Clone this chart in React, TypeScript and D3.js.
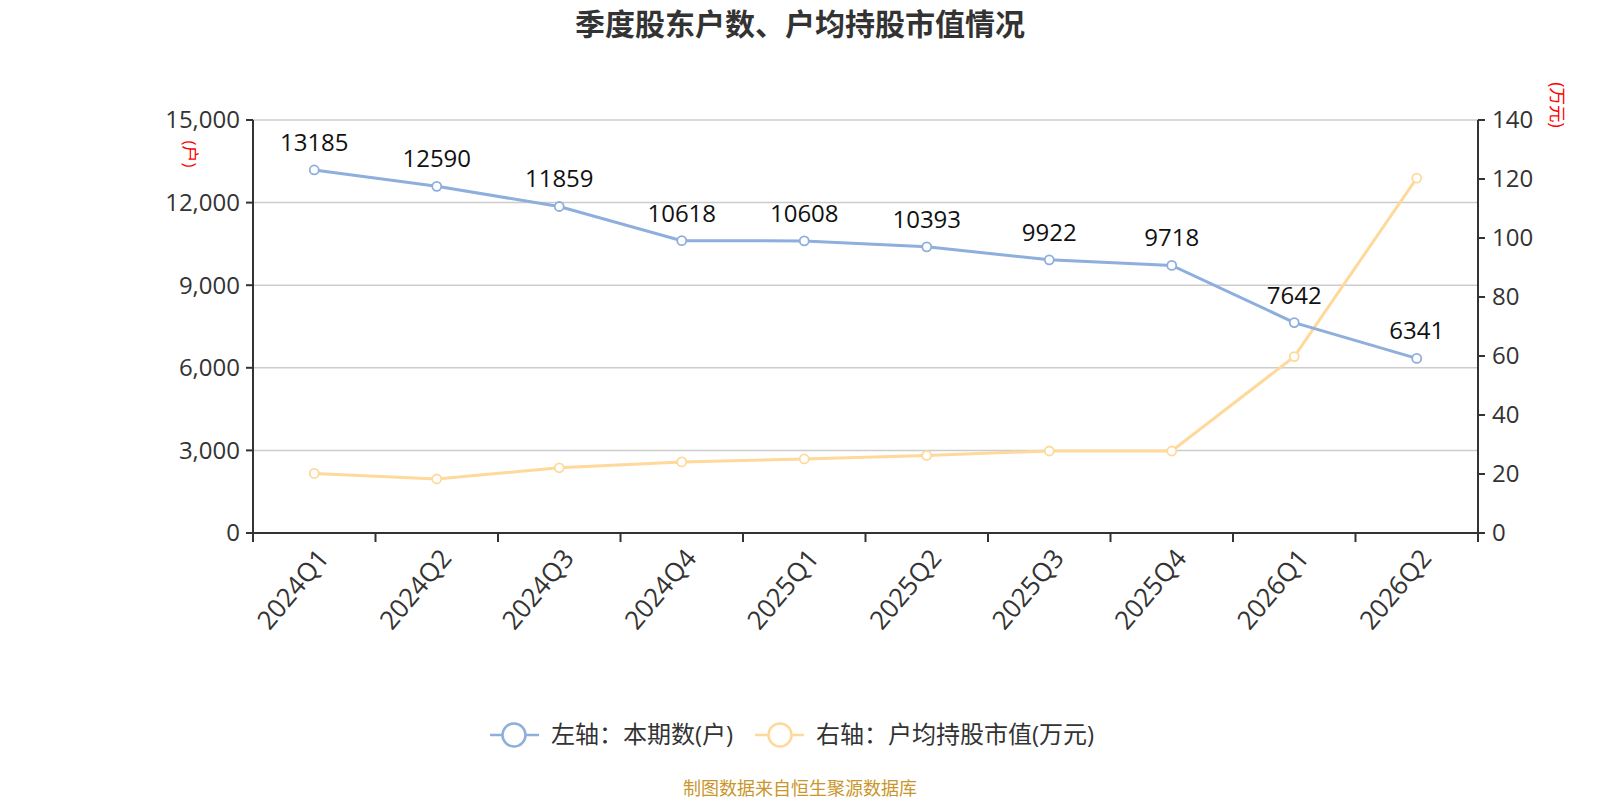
import React from "react";
import * as d3 from "d3";

const categories = ["2024Q1", "2024Q2", "2024Q3", "2024Q4", "2025Q1", "2025Q2", "2025Q3", "2025Q4", "2026Q1", "2026Q2"];
const holders = [13185, 12590, 11859, 10618, 10608, 10393, 9922, 9718, 7642, 6341];
const avgValue = [20.2, 18.3, 22.1, 24.1, 25.1, 26.3, 27.8, 27.8, 59.8, 120.3];
const leftTicks = [0, 3000, 6000, 9000, 12000, 15000];
const rightTicks = [0, 20, 40, 60, 80, 100, 120, 140];

const title = "季度股东户数、户均持股市值情况";
const legendLeft = "左轴：本期数(户)";
const legendRight = "右轴：户均持股市值(万元)";
const source = "制图数据来自恒生聚源数据库";

const BLUE = "#8eaedd";
const YELLOW = "#fed99b";
const FONT = "'Open Sans', 'Noto Sans CJK SC', sans-serif";

export default function App() {
  const left = 253, right = 1478, top = 120, bottom = 533;
  const x = d3.scaleBand<string>().domain(categories).range([left, right]);
  const yL = d3.scaleLinear().domain([0, 15000]).range([bottom, top]);
  const yR = d3.scaleLinear().domain([0, 140]).range([bottom, top]);
  const cx = (c: string) => (x(c) as number) + x.bandwidth() / 2;
  const lineL = d3.line<number>().x((_, i) => cx(categories[i])).y((d) => yL(d));
  const lineR = d3.line<number>().x((_, i) => cx(categories[i])).y((d) => yR(d));
  const fmt = d3.format(",");
  const bounds = [...categories.map((c) => x(c) as number), right];
  const legY = 735;

  return (
    <svg width={1600} height={800} style={{ position: "absolute", left: 0, top: 0, background: "#fff" }} fontFamily={FONT}>
      <text x={800} y={35} textAnchor="middle" fontSize={30} fontWeight="bold" fill="#333">{title}</text>

      {/* grid */}
      {leftTicks.filter((t) => t > 0).map((t) => (
        <line key={t} x1={left} x2={right} y1={yL(t)} y2={yL(t)} stroke="#ccc" strokeWidth={1.5} />
      ))}

      {/* left axis */}
      <line x1={left} x2={left} y1={top} y2={bottom} stroke="#333" strokeWidth={2} />
      {leftTicks.map((t) => (
        <g key={t}>
          <line x1={left - 7} x2={left} y1={yL(t)} y2={yL(t)} stroke="#333" strokeWidth={2} />
          <text x={left - 13} y={yL(t)} dy="0.35em" textAnchor="end" fontSize={24} fill="#333">{fmt(t)}</text>
        </g>
      ))}
      <text transform={`translate(190,154) rotate(90)`} textAnchor="middle" dy="0.35em" fontSize={17} fill="#f00">(户)</text>

      {/* right axis */}
      <line x1={right} x2={right} y1={top} y2={bottom} stroke="#333" strokeWidth={2} />
      {rightTicks.map((t) => (
        <g key={t}>
          <line x1={right} x2={right + 7} y1={yR(t)} y2={yR(t)} stroke="#333" strokeWidth={2} />
          <text x={right + 14} y={yR(t)} dy="0.35em" textAnchor="start" fontSize={24} fill="#333">{t}</text>
        </g>
      ))}
      <text transform={`translate(1557,105) rotate(90)`} textAnchor="middle" dy="0.35em" fontSize={17.5} fill="#f00">(万元)</text>

      {/* x axis */}
      <line x1={left} x2={right} y1={bottom} y2={bottom} stroke="#333" strokeWidth={2} />
      {bounds.map((b, i) => (
        <line key={i} x1={b} x2={b} y1={bottom} y2={bottom + 9} stroke="#333" strokeWidth={2} />
      ))}
      {categories.map((c) => (
        <text key={c} transform={`translate(${cx(c) + 9},${bottom + 20}) rotate(-50)`} textAnchor="end" dy="0.35em" fontSize={26} fill="#333">{c}</text>
      ))}

      {/* lines */}
      <path d={lineR(avgValue) as string} fill="none" stroke={YELLOW} strokeWidth={3} />
      <path d={lineL(holders) as string} fill="none" stroke={BLUE} strokeWidth={3} />
      {avgValue.map((v, i) => (
        <circle key={i} cx={cx(categories[i])} cy={yR(v)} r={4.5} fill="#fff" stroke={YELLOW} strokeWidth={1.8} />
      ))}
      {holders.map((v, i) => (
        <circle key={i} cx={cx(categories[i])} cy={yL(v)} r={4.5} fill="#fff" stroke={BLUE} strokeWidth={1.8} />
      ))}
      {holders.map((v, i) => (
        <text key={i} x={cx(categories[i])} y={yL(v) - 19} textAnchor="middle" fontSize={24} fill="#111">{v}</text>
      ))}

      {/* legend */}
      <line x1={490} x2={539} y1={legY} y2={legY} stroke={BLUE} strokeWidth={2.5} />
      <circle cx={514} cy={legY} r={11.5} fill="#fff" stroke={BLUE} strokeWidth={2.5} />
      <text x={551} y={legY} dy="0.35em" fontSize={24} fill="#333">{legendLeft}</text>
      <line x1={755} x2={804} y1={legY} y2={legY} stroke={YELLOW} strokeWidth={2.5} />
      <circle cx={780} cy={legY} r={11.5} fill="#fff" stroke={YELLOW} strokeWidth={2.5} />
      <text x={816} y={legY} dy="0.35em" fontSize={24} fill="#333">{legendRight}</text>

      <text x={800} y={789} dy="0.35em" textAnchor="middle" fontSize={18} fill="#c9962c">{source}</text>
    </svg>
  );
}
